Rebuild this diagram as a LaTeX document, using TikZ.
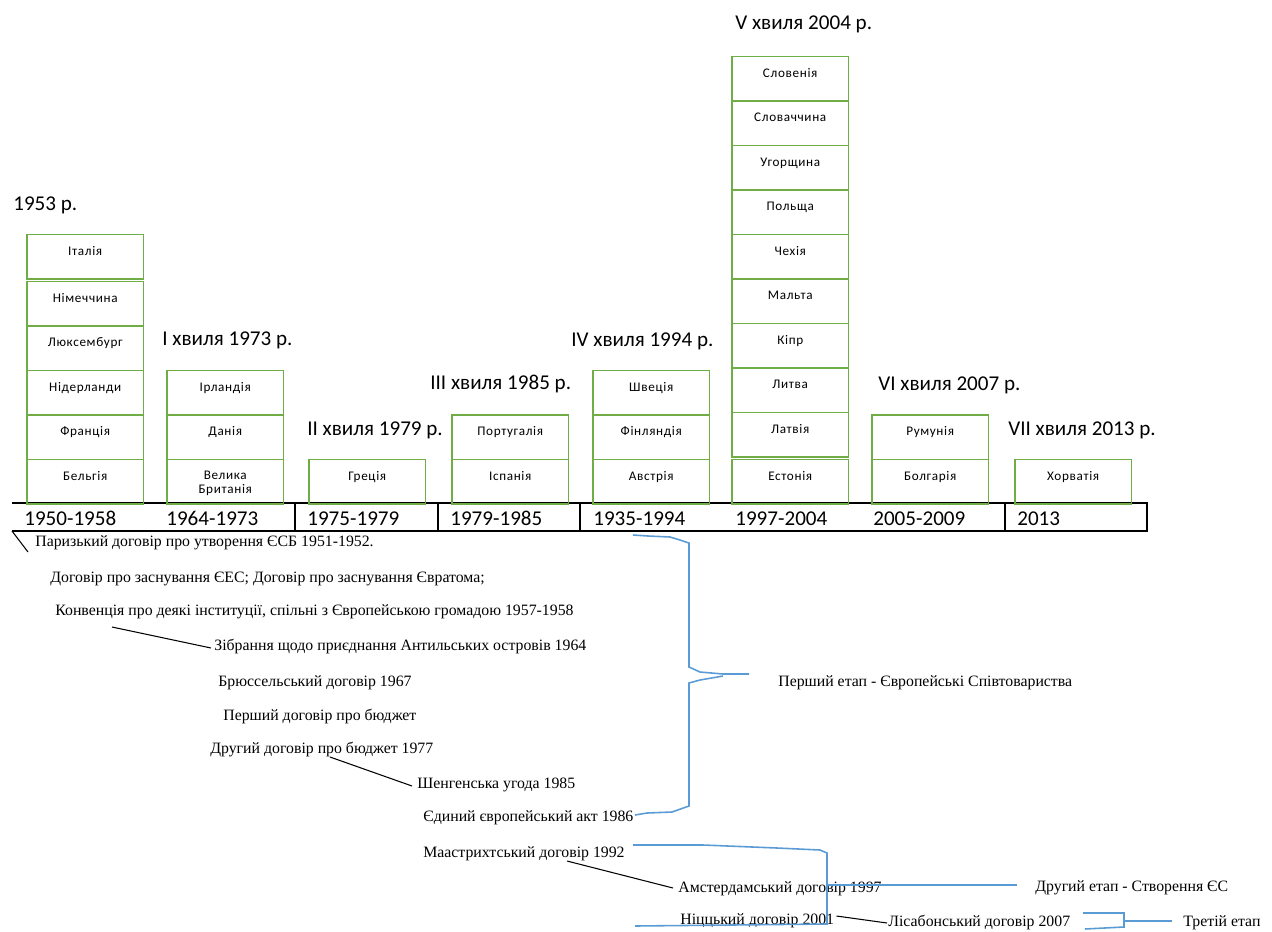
\documentclass[tikz,border=0pt]{standalone}
\usepackage{fontspec}
\setmainfont{Carlito}
\newfontfamily\serifua{Liberation Serif}
\newfontfamily\boxfont[LetterSpace=5]{Carlito}
\usepackage{tikz}
\usetikzlibrary{positioning}
\definecolor{boxgreen}{RGB}{112,173,71}
\definecolor{braceblue}{RGB}{91,155,213}

\begin{document}
\begin{tikzpicture}[
	x=0.02cm, y=-0.02cm,
	node distance=0pt,
	every node/.style={inner sep=0pt},
	country/.style={draw=boxgreen, line width=1pt, outer sep=0pt, minimum width=2.33cm, minimum height=0.89cm,
		text height=0.2cm, text depth=0.26cm, align=center, font=\boxfont\fontsize{7.5}{8}\selectfont},
	wave/.style={anchor=base west, font=\fontsize{12}{14}\selectfont},
	years/.style={anchor=base west, font=\fontsize{12}{14}\selectfont},
	event/.style={anchor=base west, font=\serifua\fontsize{9}{10}\selectfont},
	lead/.style={line width=0.6pt},
	brace/.style={draw=braceblue, line width=0.9pt}
	]
	\useasboundingbox (0,0) rectangle (1272,931);
	
	% Шкала років
	\coordinate (barsw) at (12,531);
	\draw[line width=0.6pt] (12,503) -- (1147,503) -- (1147,531) -- (barsw);
	\draw[line width=0.6pt] (295,503) -- (295,531);
	\draw[line width=0.6pt] (438,503) -- (438,531);
	\draw[line width=0.6pt] (580,503) -- (580,531);
	\draw[line width=0.6pt] (1005,503) -- (1005,531);
	
	\node[years] (y1) at (24,525) {1950-1958};
	\node[years] (y2) at (166,525) {1964-1973};
	\node[years] (y3) at (307,525) {1975-1979};
	\node[years] (y4) at (450,525) {1979-1985};
	\node[years] (y5) at (593,525) {1935-1994};
	\node[years] (y6) at (735,525) {1997-2004};
	\node[years] (y7) at (873,525) {2005-2009};
	\node[years] (y8) at (1017,525) {2013};
	
	% Засновники
	\node[country, anchor=south west] (belgiya) at (27,504) {Бельгія};
	\node[country, above=of belgiya] (frantsiya) {Франція};
	\node[country, above=of frantsiya] (niderlandy) {Нідерланди};
	\node[country, above=of niderlandy] (lyuksemburg) {Люксембург};
	\node[country, above=of lyuksemburg] (nimechchyna) {Німеччина};
	\node[country, above=0.05cm of nimechchyna] (italiya) {Італія};
	\node[wave] (w0) at (13,210) {1953 р.};
	
	% I хвиля
	\node[country, anchor=south west, text height=0.48cm, text depth=0cm] (brytaniya) at (167,504) {Велика\\Британія};
	\node[country, above=of brytaniya] (daniya) {Данія};
	\node[country, above=of daniya] (irlandiya) {Ірландія};
	\node[wave] (w1) at (162,345) {I хвиля 1973 р.};
	
	% II хвиля
	\node[country, anchor=south west] (gretsiya) at (309,504) {Греція};
	\node[wave] (w2) at (307,435) {II хвиля 1979 р.};
	
	% III хвиля
	\node[country, anchor=south west] (ispaniya) at (452,504) {Іспанія};
	\node[country, above=of ispaniya] (portugaliya) {Португалія};
	\node[wave] (w3) at (430,389) {III хвиля 1985 р.};
	
	% IV хвиля
	\node[country, anchor=south west] (avstriya) at (593,504) {Австрія};
	\node[country, above=of avstriya] (finlyandiya) {Фінляндія};
	\node[country, above=of finlyandiya] (shvetsiya) {Швеція};
	\node[wave] (w4) at (571,346) {IV хвиля 1994 р.};
	
	% V хвиля
	\node[country, anchor=south west] (estoniya) at (732,504) {Естонія};
	\node[country, above=0.05cm of estoniya] (latviya) {Латвія};
	\node[country, above=of latviya] (lytva) {Литва};
	\node[country, above=of lytva] (kipr) {Кіпр};
	\node[country, above=of kipr] (malta) {Мальта};
	\node[country, above=of malta] (chekhiya) {Чехія};
	\node[country, above=of chekhiya] (polshcha) {Польща};
	\node[country, above=of polshcha] (uhorshchyna) {Угорщина};
	\node[country, above=of uhorshchyna] (slovachchyna) {Словаччина};
	\node[country, above=of slovachchyna] (sloveniya) {Словенія};
	\node[wave] (w5) at (735,29) {V хвиля 2004 р.};
	
	% VI хвиля
	\node[country, anchor=south west] (bolgariya) at (872,504) {Болгарія};
	\node[country, above=of bolgariya] (rumuniya) {Румунія};
	\node[wave] (w6) at (878,390) {VI хвиля 2007 р.};
	
	% VII хвиля
	\node[country, anchor=south west] (khorvatiya) at (1015,504) {Хорватія};
	\node[wave] (w7) at (1008,435) {VII хвиля 2013 р.};
	
	% Договори
	\node[event] (paryzk) at (35,546) {Паризький договір про утворення ЄСБ 1951-1952.};
	\node[event] (zasnuv) at (50,582) {Договір про заснування ЄЕС; Договір про заснування Євратома;};
	\node[event] (konv) at (55,615) {Конвенція про деякі інституції, спільні з Європейською громадою 1957-1958};
	\node[event] (zibr) at (214,650) {Зібрання щодо приєднання Антильських островів 1964};
	\node[event] (bryus) at (218,686) {Брюссельський договір 1967};
	\node[event] (pershyi) at (223,720) {Перший договір про бюджет};
	\node[event] (druhyi) at (210,753) {Другий договір про бюджет 1977};
	\node[event] (shengen) at (417,788) {Шенгенська угода 1985};
	\node[event] (yedynyi) at (423,821) {Єдиний європейський акт 1986};
	\node[event] (maastr) at (423,857) {Маастрихтський договір 1992};
	\node[event] (amst) at (678,892) {Амстердамський договір 1997};
	\node[event] (nitsa) at (680,924) {Ніццький договір 2001};
	\node[event] (lisab) at (888,926) {Лісабонський договір 2007};
	
	% Етапи
	\node[event] (stage1) at (778,686) {Перший етап - Європейські Співтовариства};
	\node[event] (stage2) at (1035,891) {Другий етап - Створення ЄС};
	\node[event] (stage3) at (1183,926) {Третій етап};
	
	% Виноски
	\draw[lead] (barsw) -- ([shift={(-7,6)}]paryzk.base west);
	\draw[lead] ([shift={(57,12)}]konv.base west) -- ([shift={(-3,-2)}]zibr.base west);
	\draw[lead] ([shift={(120,4)}]druhyi.base west) -- ([shift={(-5,-2)}]shengen.base west);
	\draw[lead] ([shift={(144,4)}]maastr.base west) -- ([shift={(-5,-4)}]amst.base west);
	\draw[lead] ([shift={(2,-8)}]nitsa.base east) -- ([shift={(-1,-3)}]lisab.base west);
	
	% Дужки
	\draw[brace] (633,535) -- (648,536) -- (670,537) -- (680,540) -- (689,543) -- (689,667)
		-- (700,672) -- (723,674) -- (749,674);
	\draw[brace] (723,676) -- (700,680) -- (689,683) -- (689,806) -- (672,812) -- (647,813) -- (635,815);
	
	\draw[brace] (633,845) -- (703,845) -- (777,848) -- (820,850) -- (827,853) -- (827,924) -- (635,926);
	\draw[brace] (827,885) -- (1017,885);
	
	\draw[brace] (1083,913) -- (1124,913) -- (1124,927) -- (1085,929);
	\draw[brace] (1124,921) -- (1172,921);
	
\end{tikzpicture}
\end{document}
